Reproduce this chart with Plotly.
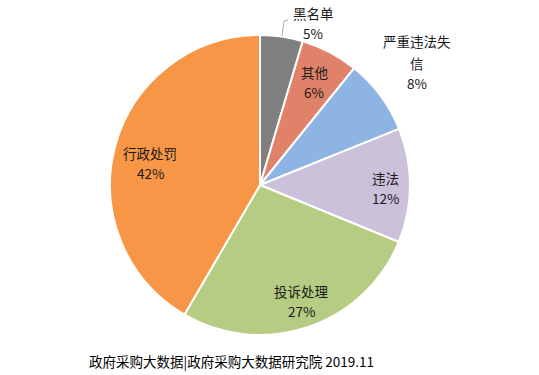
import math
import plotly.graph_objects as go

labels = ["黑名单", "其他", "严重违法失信", "违法", "投诉处理", "行政处罚"]
values = [4.6, 6.2, 8.1, 12.3, 27.2, 41.6]
colors = ["#7F7F7F", "#E0826A", "#8EB4E3", "#CCC1DA", "#B5CC82", "#F79646"]
source = "政府采购大数据|政府采购大数据研究院 2019.11"

FONT = "Noto Sans CJK SC, Microsoft YaHei, sans-serif"
W, H = 539, 375
CX, CY, R = 260, 185, 150  # pie centre / radius in pixels

fig = go.Figure(go.Pie(
    labels=labels,
    values=values,
    textinfo="none",
    sort=False,
    direction="clockwise",
    rotation=0,
    marker=dict(colors=colors, line=dict(color="white", width=2)),
    domain=dict(x=[(CX - R) / W, (CX + R) / W],
                y=[(H - CY - R) / H, (H - CY + R) / H]),
    hoverinfo="label+percent",
    showlegend=False,
))

def px(x, y):
    return x / W, 1 - y / H

def add_text(text, x, y, size=13.5):
    xp, yp = px(x, y)
    fig.add_annotation(text=text, x=xp, y=yp, xref="paper", yref="paper",
                       xanchor="center", yanchor="middle", showarrow=False,
                       font=dict(family=FONT, size=size, color="#1a1a1a"))

total = sum(values)
cum = 0
# label placement: inside slices at 0.8 R along mid-angle (+ small nudges);
# two slices are labelled outside the pie
outside_offsets = {
    "黑名单": (53, -162),
    "严重违法失信": (157, -122),
}
nudges = {
    "其他": (-1.5, 3),
    "违法": (6, 2.5),
    "投诉处理": (3, 2),
    "行政处罚": (6, 9),
}
wrap = {"严重违法失信": ["严重违法失", "信"]}
for lab, v in zip(labels, values):
    mid = (cum + v / 2) / total * 2 * math.pi
    cum += v
    pct = f"{round(v / total * 100)}%"
    if lab in outside_offsets:
        dx, dy = outside_offsets[lab]
    else:
        ndx, ndy = nudges.get(lab, (0, 0))
        dx = 0.8 * R * math.sin(mid) + ndx
        dy = -0.8 * R * math.cos(mid) + ndy
    x, y = CX + dx, CY + dy
    lines = wrap.get(lab, [lab])
    if len(lines) == 1:
        add_text(lines[0], x, y - 10)
        add_text(pct, x, y + 10)
    else:
        add_text(lines[0], x, y - 22)
        add_text(lines[1], x, y)
        add_text(pct, x, y + 20)

# leader line for 黑名单
p0 = px(282, 36)
p1 = px(284, 21)
p2 = px(288, 20)
fig.add_shape(type="path", xref="paper", yref="paper",
              path=f"M {p0[0]},{p0[1]} L {p1[0]},{p1[1]} L {p2[0]},{p2[1]}",
              line=dict(color="#A6A6A6", width=1))

fx, fy = px(87, 361)
fig.add_annotation(
    text=source, x=fx, y=fy,
    xref="paper", yref="paper", xanchor="left", yanchor="middle",
    showarrow=False, font=dict(family=FONT, size=13.5, color="#000000"),
)

fig.update_layout(
    width=W, height=H,
    margin=dict(l=0, r=0, t=0, b=0),
    paper_bgcolor="white", plot_bgcolor="white",
    font=dict(family=FONT),
)

fig.write_html(
    "out.html",
    config={"displayModeBar": False},
    post_script="document.body.style.margin='0';document.body.style.overflow='hidden';",
)
